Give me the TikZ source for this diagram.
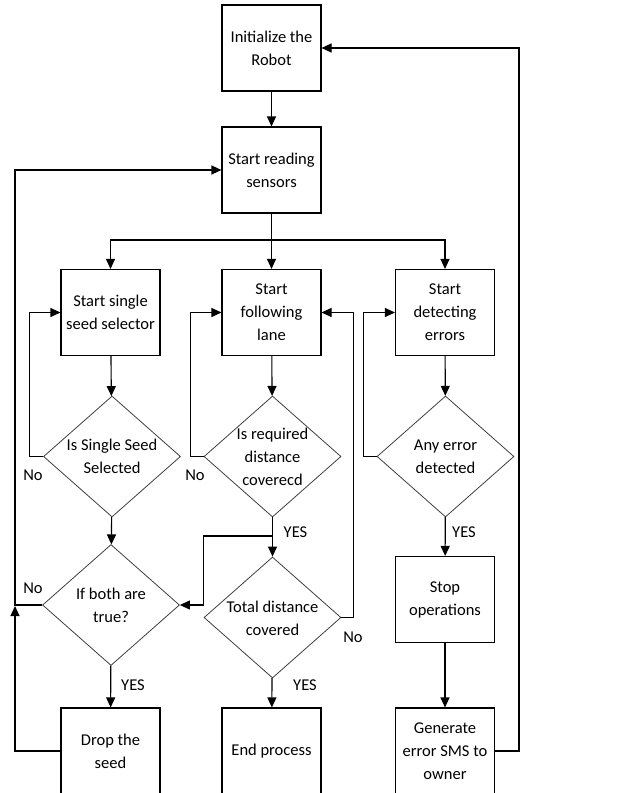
\documentclass[tikz,border=0pt]{standalone}
\usepackage{fontspec}
\setmainfont{Carlito}
\usetikzlibrary{shapes.geometric,arrows.meta}

\tikzset{
    box/.style={draw,line width=1.1pt,minimum width=99pt,minimum height=86pt,align=center,inner sep=0pt},
    decision/.style={draw=black!75,line width=0.8pt,diamond,minimum width=137pt,minimum height=121pt,inner sep=0pt},
    flow/.style={line width=1.1pt,-{Triangle[length=10pt,width=9pt]}},
    line/.style={line width=1.1pt},
    tag/.style={inner sep=0pt}
}

\begin{document}
\begin{tikzpicture}[x=1pt,y=-1pt,font=\fontsize{16.5}{23}\selectfont]
    \useasboundingbox (0,0) rectangle (628,793);
    \clip (0,0) rectangle (628,793);
    \fill[white] (0,0) rectangle (628,793);

    %boxes
    \node[box] (init) at (271.5,48) {Initialize the\\Robot};
    \node[box] (sensors) at (271.5,170) {Start reading\\sensors};
    \node[box] (seedsel) at (110.5,312.5) {Start single\\seed selector};
    \node[box] (lane) at (271.5,312.5) {Start\\following\\lane};
    \node[box] (detect) at (445,312.5) {Start\\detecting\\errors};
    \node[box] (stop) at (445,599.5) {Stop\\operations};
    \node[box] (drop) at (110.5,751) {Drop the\\seed};
    \node[box] (endp) at (271.5,751) {End process};
    \node[box] (sms) at (445,751) {Generate\\error SMS to\\owner};

    %decisions
    \node[decision,label={[align=center]center:Is Single Seed\\Selected}] (qseed) at (112,456.5) {};
    \node[decision,label={[align=center]center:Is required\\distance\\coverecd}] (qdist) at (272.5,456.5) {};
    \node[decision,label={[align=center]center:Any error\\detected}] (qerr) at (445.5,456.5) {};
    \node[decision,label={[align=center]center:If both are\\true?}] (qboth) at (111,605) {};
    \node[decision,label={[align=center,yshift=-1pt]center:Total distance\\covered}] (qtotal) at (272.5,617.5) {};

    %helper points
    \coordinate (split) at (271.5,240);
    \coordinate (fork) at (272.5,536);

    %main flow
    \draw[flow] (init) -- (sensors);
    \draw[line] (sensors) -- (split);
    \draw[flow] (split) -| (seedsel);
    \draw[flow] (split) -- (lane);
    \draw[flow] (split) -| (detect);
    \draw[flow] (seedsel) -- (qseed);
    \draw[flow] (lane) -- (qdist);
    \draw[flow] (detect) -- (qerr);
    \draw[flow] (qseed) -- (qboth);
    \draw[flow] (qdist) -- (qtotal);
    \draw[flow] (qerr) -- (stop);
    \draw[flow] (stop) -- (sms);
    \draw[flow] (qboth) -- (drop);
    \draw[flow] (qtotal) -- (endp);

    %loops
    \draw[flow] (qseed.west) -- ++(-14,0) |- (seedsel.west);
    \draw[flow] (qdist.west) -- ++(-13,0) |- (lane.west);
    \draw[flow] (qerr.west) -- ++(-13,0) |- (detect.west);
    \draw[flow] (qtotal.east) -- ++(12,0) |- (lane.east);
    \draw[flow] (fork) -- ++(-69,0) |- (qboth.east);
    \draw[flow] (qboth.west) -| (15,240) |- (sensors.west);
    \draw[flow] (drop.west) -| (15,606);
    \draw[flow] (sms.east) -| (519,100) |- (init.east);

    %labels
    \node[tag] (noseed) at (33,475) {No};
    \node[tag] (nodist) at (195,475) {No};
    \node[tag] (noboth) at (33,588) {No};
    \node[tag] (nototal) at (353,637) {No};
    \node[tag] (yesdist) at (295.5,532) {YES};
    \node[tag] (yeserr) at (464,532) {YES};
    \node[tag] (yesboth) at (133,685) {YES};
    \node[tag] (yestotal) at (305,685) {YES};
\end{tikzpicture}
\end{document}
